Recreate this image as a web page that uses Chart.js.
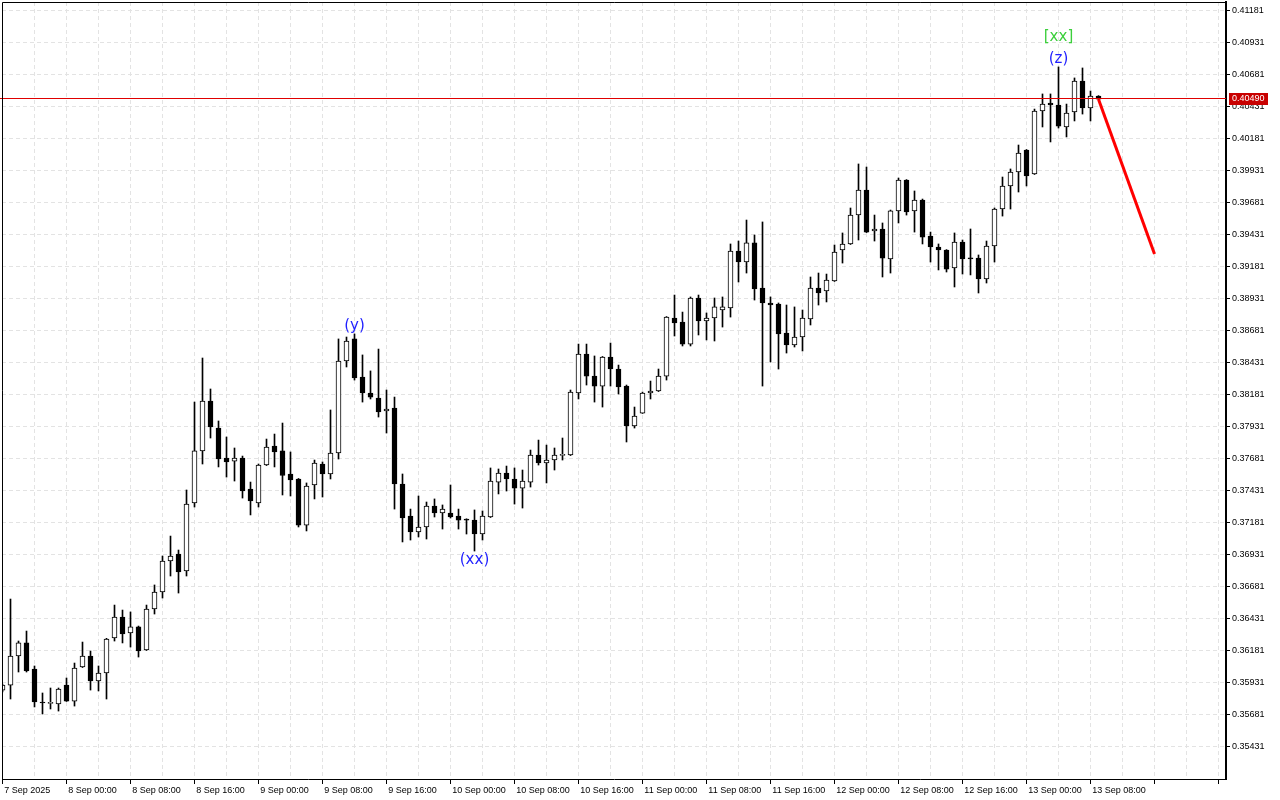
<!DOCTYPE html>
<html>
<head>
<meta charset="utf-8">
<script src="https://cdn.jsdelivr.net/npm/chart.js@4.4.1/dist/chart.umd.min.js"></script>
<style>
  html, body { margin: 0; padding: 0; background: #fff; }
  canvas { display: block; }
</style>
</head>
<body>
<canvas id="chart" width="1280" height="800"></canvas>
<script>
// hourly candles, 7 Sep 16:00 .. 13 Sep 09:00
const opens = [
  0.35874, 0.35913, 0.36140, 0.36242, 0.36038, 0.35781, 0.35770, 0.35765, 0.35913, 0.35788,
  0.36054, 0.36140, 0.35945, 0.36007, 0.36281, 0.36445, 0.36320, 0.36367, 0.36187, 0.36507,
  0.36640, 0.36882, 0.36937, 0.36804, 0.37335, 0.37742, 0.38132, 0.37921, 0.37687, 0.37663,
  0.37687, 0.37445, 0.37335, 0.37632, 0.37781, 0.37742, 0.37562, 0.37523, 0.37163, 0.37476,
  0.37640, 0.37562, 0.37726, 0.38445, 0.38617, 0.38320, 0.38195, 0.38156, 0.38054, 0.38077,
  0.37484, 0.37234, 0.37109, 0.37148, 0.37312, 0.37257, 0.37257, 0.37234, 0.37210, 0.37202,
  0.37093, 0.37226, 0.37499, 0.37570, 0.37523, 0.37452, 0.37499, 0.37710, 0.37648, 0.37671,
  0.37708, 0.37710, 0.38195, 0.38499, 0.38327, 0.38249, 0.38476, 0.38382, 0.38249, 0.37937,
  0.38038, 0.38195, 0.38210, 0.38327, 0.38781, 0.38749, 0.38577, 0.38937, 0.38757, 0.38781,
  0.38843, 0.38859, 0.39304, 0.39218, 0.39367, 0.39015, 0.38898, 0.38890, 0.38663, 0.38570,
  0.38632, 0.38773, 0.39015, 0.38992, 0.39070, 0.39312, 0.39359, 0.39585, 0.39781, 0.39460,
  0.39476, 0.39242, 0.39617, 0.39859, 0.39617, 0.39702, 0.39421, 0.39335, 0.39312, 0.39171,
  0.39374, 0.39249, 0.39249, 0.39085, 0.39343, 0.39632, 0.39812, 0.39921, 0.40093, 0.39906,
  0.40398, 0.40460, 0.40445, 0.40273, 0.40390, 0.40632, 0.40421, 0.40515
];
const highs = [
  0.35921, 0.36585, 0.36257, 0.36335, 0.36062, 0.35851, 0.35890, 0.35890, 0.35968, 0.36085,
  0.36249, 0.36179, 0.36062, 0.36278, 0.36538, 0.36499, 0.36484, 0.36374, 0.36538, 0.36695,
  0.36921, 0.37077, 0.36968, 0.37437, 0.38124, 0.38468, 0.38226, 0.37976, 0.37851, 0.37765,
  0.37702, 0.37499, 0.37640, 0.37835, 0.37874, 0.37960, 0.37734, 0.37527, 0.37492, 0.37671,
  0.37656, 0.38062, 0.38617, 0.38632, 0.38656, 0.38492, 0.38367, 0.38538, 0.38218, 0.38163,
  0.37562, 0.37288, 0.37390, 0.37343, 0.37367, 0.37320, 0.37476, 0.37288, 0.37212, 0.37281,
  0.37273, 0.37609, 0.37601, 0.37624, 0.37609, 0.37593, 0.37749, 0.37827, 0.37788, 0.37765,
  0.37843, 0.38218, 0.38577, 0.38577, 0.38484, 0.38480, 0.38585, 0.38413, 0.38257, 0.38085,
  0.38202, 0.38288, 0.38382, 0.38792, 0.38960, 0.38827, 0.38945, 0.38960, 0.38820, 0.38937,
  0.38945, 0.39359, 0.39382, 0.39546, 0.39429, 0.39531, 0.38945, 0.38898, 0.38882, 0.38867,
  0.38843, 0.39101, 0.39132, 0.39124, 0.39351, 0.39445, 0.39640, 0.39984, 0.39960, 0.39585,
  0.39523, 0.39624, 0.39874, 0.39862, 0.39773, 0.39710, 0.39452, 0.39359, 0.39315, 0.39445,
  0.39390, 0.39476, 0.39273, 0.39382, 0.39640, 0.39882, 0.39945, 0.40132, 0.40097, 0.40413,
  0.40531, 0.40531, 0.40742, 0.40452, 0.40656, 0.40734, 0.40554, 0.40518
];
const lows = [
  0.35859, 0.35804, 0.36015, 0.36015, 0.35742, 0.35687, 0.35726, 0.35710, 0.35785, 0.35749,
  0.36050, 0.35874, 0.35867, 0.35804, 0.36257, 0.36242, 0.36210, 0.36132, 0.36183, 0.36468,
  0.36593, 0.36765, 0.36632, 0.36765, 0.37304, 0.37640, 0.37843, 0.37617, 0.37538, 0.37507,
  0.37374, 0.37242, 0.37304, 0.37628, 0.37617, 0.37398, 0.37390, 0.37148, 0.37117, 0.37367,
  0.37382, 0.37523, 0.37679, 0.38398, 0.38296, 0.38124, 0.38148, 0.38007, 0.37882, 0.37288,
  0.37031, 0.37046, 0.37070, 0.37054, 0.37226, 0.37132, 0.37218, 0.37132, 0.37093, 0.36960,
  0.37046, 0.37222, 0.37406, 0.37429, 0.37327, 0.37296, 0.37460, 0.37632, 0.37492, 0.37593,
  0.37671, 0.37706, 0.38148, 0.38257, 0.38124, 0.38085, 0.38249, 0.38187, 0.37812, 0.37921,
  0.38035, 0.38148, 0.38206, 0.38296, 0.38640, 0.38562, 0.38562, 0.38648, 0.38609, 0.38601,
  0.38710, 0.38788, 0.39062, 0.39132, 0.38921, 0.38249, 0.38437, 0.38382, 0.38507, 0.38554,
  0.38523, 0.38726, 0.38882, 0.38906, 0.39066, 0.39210, 0.39355, 0.39390, 0.39448, 0.39382,
  0.39101, 0.39132, 0.39523, 0.39585, 0.39452, 0.39359, 0.39218, 0.39156, 0.39140, 0.39023,
  0.39124, 0.39117, 0.38976, 0.39054, 0.39218, 0.39577, 0.39632, 0.39765, 0.39812, 0.39902,
  0.40273, 0.40156, 0.40265, 0.40195, 0.40320, 0.40374, 0.40320, 0.40488
];
const closes = [
  0.35913, 0.36140, 0.36242, 0.36023, 0.35781, 0.35773, 0.35775, 0.35882, 0.35788, 0.36046,
  0.36140, 0.35945, 0.36007, 0.36273, 0.36445, 0.36312, 0.36367, 0.36179, 0.36507, 0.36640,
  0.36882, 0.36921, 0.36796, 0.37327, 0.37742, 0.38132, 0.37929, 0.37679, 0.37656, 0.37687,
  0.37429, 0.37351, 0.37632, 0.37773, 0.37734, 0.37550, 0.37515, 0.37163, 0.37468, 0.37648,
  0.37562, 0.37726, 0.38445, 0.38601, 0.38312, 0.38195, 0.38163, 0.38046, 0.38070, 0.37484,
  0.37218, 0.37109, 0.37148, 0.37312, 0.37257, 0.37288, 0.37226, 0.37202, 0.37202, 0.37093,
  0.37234, 0.37507, 0.37570, 0.37523, 0.37452, 0.37507, 0.37710, 0.37648, 0.37671, 0.37710,
  0.37710, 0.38202, 0.38499, 0.38327, 0.38249, 0.38476, 0.38382, 0.38242, 0.37937, 0.38015,
  0.38195, 0.38210, 0.38327, 0.38788, 0.38742, 0.38577, 0.38937, 0.38757, 0.38781, 0.38867,
  0.38867, 0.39304, 0.39218, 0.39367, 0.39007, 0.38898, 0.38882, 0.38656, 0.38570, 0.38632,
  0.38781, 0.39015, 0.38976, 0.39077, 0.39296, 0.39359, 0.39585, 0.39781, 0.39452, 0.39476,
  0.39249, 0.39617, 0.39859, 0.39609, 0.39702, 0.39413, 0.39335, 0.39312, 0.39163, 0.39374,
  0.39242, 0.39242, 0.39085, 0.39343, 0.39632, 0.39812, 0.39921, 0.40070, 0.39890, 0.40398,
  0.40452, 0.40445, 0.40280, 0.40382, 0.40632, 0.40421, 0.40515, 0.40490
];

// one label every 8 bars, starting at bar 0
const xTickLabels = [
  '7 Sep 2025', '8 Sep 00:00', '8 Sep 08:00', '8 Sep 16:00', '9 Sep 00:00', '9 Sep 08:00',
  '9 Sep 16:00', '10 Sep 00:00', '10 Sep 08:00', '10 Sep 16:00', '11 Sep 00:00', '11 Sep 08:00',
  '11 Sep 16:00', '12 Sep 00:00', '12 Sep 08:00', '12 Sep 16:00', '13 Sep 00:00', '13 Sep 08:00'
];
const yTickValues = [
  0.35431, 0.35681, 0.35931, 0.36181, 0.36431, 0.36681, 0.36931, 0.37181, 0.37431, 0.37681,
  0.37931, 0.38181, 0.38431, 0.38681, 0.38931, 0.39181, 0.39431, 0.39681, 0.39931, 0.40181,
  0.40431, 0.40681, 0.40931, 0.41181
];

const currentPrice = 0.40490;
// forecast arrow (bar index, price)
const forecastX = [137, 144];
const forecastY = [0.40490, 0.39281];

// wave marks
const waveText  = ['(y)', '(xx)', '(z)', '[xx]'];
const waveBar   = [44, 59, 132, 132];
const wavePrice = [0.38718, 0.36890, 0.40804, 0.40972];
const waveColor = ['#1f1fff', '#1f1fff', '#1f1fff', '#3ccf3c'];

const axisFont = { family: "'Liberation Sans', Arial, sans-serif", size: 9 };
const gridColor = '#e3e3e3';

const wickData = lows.map((l, i) => ({ x: i, y: [l, highs[i]] }));
const bodyData = opens.map((o, i) => ({ x: i, y: [o, closes[i]] }));
const bodyColors = opens.map((o, i) => closes[i] > o ? '#ffffff' : '#000000');
const forecastData = forecastX.map((x, i) => ({ x: x, y: forecastY[i] }));

const overlay = {
  id: 'overlay',
  afterDatasetsDraw(chart) {
    const { ctx, chartArea, scales } = chart;
    const x = scales.x, y = scales.y;

    // current price line
    const py = Math.round(y.getPixelForValue(currentPrice)) - 1;
    ctx.save();
    ctx.fillStyle = '#e00000';
    ctx.fillRect(0, py, chartArea.right, 1);

    // wave labels
    ctx.font = "15px 'DejaVu Sans', sans-serif";
    ctx.textAlign = 'center';
    ctx.textBaseline = 'middle';
    for (let i = 0; i < waveText.length; i++) {
      ctx.fillStyle = waveColor[i];
      ctx.fillText(waveText[i], x.getPixelForValue(waveBar[i]), y.getPixelForValue(wavePrice[i]));
    }
    ctx.restore();
  },
  afterDraw(chart) {
    const { ctx, chartArea, scales } = chart;
    ctx.save();
    // left and top frame
    ctx.strokeStyle = '#000';
    ctx.lineWidth = 1;
    ctx.beginPath();
    ctx.moveTo(chartArea.left + 0.5, chartArea.bottom);
    ctx.lineTo(chartArea.left + 0.5, chartArea.top + 0.5);
    ctx.lineTo(chartArea.right, chartArea.top + 0.5);
    ctx.stroke();

    // price tag on the axis
    const py = Math.round(scales.y.getPixelForValue(currentPrice)) - 1;
    ctx.fillStyle = '#c80000';
    ctx.fillRect(chartArea.right + 3, py - 5, 39, 12);
    ctx.fillStyle = '#fff';
    ctx.font = axisFont.size + 'px ' + axisFont.family;
    ctx.textAlign = 'left';
    ctx.textBaseline = 'middle';
    ctx.fillText(currentPrice.toFixed(5), chartArea.right + 6, py + 1);
    ctx.restore();
  }
};

new Chart(document.getElementById('chart'), {
  type: 'bar',
  data: {
    datasets: [
      {
        type: 'line',
        data: forecastData,
        borderColor: '#ff0000',
        borderWidth: 3,
        pointRadius: 0,
        order: 0
      },
      {
        data: bodyData,
        backgroundColor: bodyColors,
        borderColor: '#000',
        borderWidth: 1,
        borderSkipped: false,
        barThickness: 5,
        minBarLength: 1,
        grouped: false,
        order: 1
      },
      {
        data: wickData,
        backgroundColor: '#000',
        borderWidth: 0,
        barThickness: 1,
        grouped: false,
        order: 2
      }
    ]
  },
  options: {
    responsive: false,
    devicePixelRatio: 1,
    animation: false,
    events: [],
    layout: { padding: { left: 2, top: 2, right: 0, bottom: 0 } },
    plugins: {
      legend: { display: false },
      tooltip: { enabled: false }
    },
    scales: {
      x: {
        type: 'linear',
        min: -0.0625,
        max: 152.9375,
        offset: false,
        grid: {
          color: gridColor,
          offset: false,
          tickLength: 5,
          tickBorderDash: [],
          tickColor: (c) => (c.tick && c.tick.value % 8 === 0) ? '#000' : 'rgba(0,0,0,0)'
        },
        border: { display: true, color: '#000', width: 1, dash: [4, 3] },
        afterBuildTicks: (s) => {
          const t = [];
          for (let k = 0; k <= 152; k += 4) t.push({ value: k });
          s.ticks = t;
        },
        ticks: {
          autoSkip: false,
          maxRotation: 0,
          minRotation: 0,
          align: 'start',
          padding: 1,
          color: '#000',
          font: axisFont,
          callback: (v) => (v % 8 === 0 && xTickLabels[v / 8]) ? '\u2009' + xTickLabels[v / 8] : ''
        },
        afterFit: (s) => { s.height = 21; s.paddingLeft = 0; s.paddingRight = 0; }
      },
      y: {
        type: 'linear',
        position: 'right',
        min: 0.351791,
        max: 0.412494,
        grid: { color: gridColor, tickLength: 4, tickColor: '#000', tickBorderDash: [] },
        border: { display: true, color: '#000', width: 2, dash: [4, 3] },
        afterBuildTicks: (s) => { s.ticks = yTickValues.map(v => ({ value: v })); },
        ticks: {
          padding: 2,
          color: '#000',
          font: axisFont,
          callback: (v) => v.toFixed(5)
        },
        afterFit: (s) => { s.width = 54; s.paddingTop = 0; s.paddingBottom = 0; }
      }
    }
  },
  plugins: [overlay]
});
</script>
</body>
</html>
